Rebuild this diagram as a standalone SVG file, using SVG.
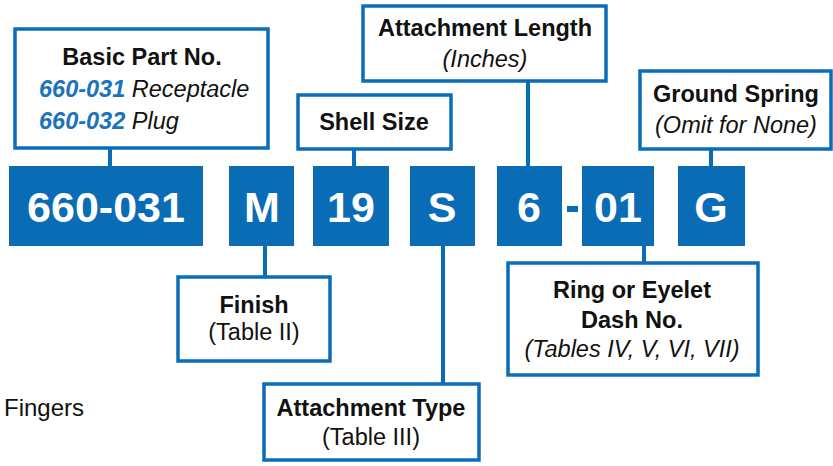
<svg xmlns="http://www.w3.org/2000/svg" width="833" height="466" viewBox="0 0 833 466">
<style>
.lbl{fill:#fff;stroke:#0a6db7;stroke-width:3.5}
.seg{fill:#0a6cb5}
.big{font-family:"Liberation Sans",Arial,sans-serif;font-weight:bold;font-size:43px;fill:#fff;text-anchor:middle}
.b{font-family:"Liberation Sans",Arial,sans-serif;font-weight:bold;font-size:23.5px;fill:#111;text-anchor:middle}
.i{font-family:"Liberation Sans",Arial,sans-serif;font-style:italic;font-size:23.5px;fill:#111;text-anchor:middle}
.r{font-family:"Liberation Sans",Arial,sans-serif;font-size:23.5px;fill:#111;text-anchor:middle}
.bl{font-weight:bold;fill:#1a74bb}
.conn{stroke:#0a6db7;stroke-width:4;fill:none}
</style>
<rect width="833" height="466" fill="#fff"/>
<g id="connectors">
<line class="conn" x1="110" y1="148" x2="110" y2="167"/>
<line class="conn" x1="354" y1="149" x2="354" y2="167"/>
<line class="conn" x1="528" y1="81" x2="528" y2="167"/>
<line class="conn" x1="711" y1="149" x2="711" y2="167"/>
<line class="conn" x1="265" y1="245" x2="265" y2="277"/>
<line class="conn" x1="443" y1="245" x2="443" y2="384"/>
<line class="conn" x1="644" y1="245" x2="644" y2="263"/>
</g>
<g id="seg-660-031"><rect class="seg" x="9" y="166" width="194" height="80"/><text class="big" x="106" y="222">660-031</text></g>
<g id="seg-M"><rect class="seg" x="229" y="166" width="65" height="80"/><text class="big" x="262" y="222">M</text></g>
<g id="seg-19"><rect class="seg" x="313" y="166" width="76" height="80"/><text class="big" x="351" y="222">19</text></g>
<g id="seg-S"><rect class="seg" x="410" y="166" width="65" height="80"/><text class="big" x="442" y="222">S</text></g>
<g id="seg-6"><rect class="seg" x="497" y="166" width="65" height="80"/><text class="big" x="529" y="222">6</text></g>
<g id="dash"><rect class="seg" x="567" y="206" width="11" height="6"/></g>
<g id="seg-01"><rect class="seg" x="582" y="166" width="72" height="80"/><text class="big" x="618" y="222">01</text></g>
<g id="seg-G"><rect class="seg" x="678" y="166" width="67" height="80"/><text class="big" x="711" y="222">G</text></g>
<g id="basic-part"><rect class="lbl" x="15" y="29" width="253" height="119"/>
<text class="b" x="142" y="65">Basic Part No.</text>
<text class="i" x="39" y="97" style="text-anchor:start"><tspan class="bl">660-031</tspan> Receptacle</text>
<text class="i" x="39" y="129" style="text-anchor:start"><tspan class="bl">660-032</tspan> Plug</text>
</g>
<g id="shell-size"><rect class="lbl" x="298" y="95" width="153" height="54"/><text class="b" x="374" y="130">Shell Size</text></g>
<g id="attachment-length"><rect class="lbl" x="363" y="6" width="243" height="75"/><text class="b" x="485" y="36">Attachment Length</text><text class="i" x="485" y="67">(Inches)</text></g>
<g id="ground-spring"><rect class="lbl" x="640" y="71" width="191" height="78"/><text class="b" x="736" y="102">Ground Spring</text><text class="i" x="736" y="133">(Omit for None)</text></g>
<g id="finish"><rect class="lbl" x="178" y="277" width="152" height="84"/><text class="b" x="254" y="313">Finish</text><text class="r" x="254" y="340">(Table II)</text></g>
<g id="attachment-type"><rect class="lbl" x="264" y="384" width="215" height="76"/><text class="b" x="371" y="416">Attachment Type</text><text class="r" x="371" y="445">(Table III)</text></g>
<g id="ring-eyelet"><rect class="lbl" x="508" y="263" width="250" height="112"/><text class="b" x="632" y="298">Ring or Eyelet</text><text class="b" x="632" y="328">Dash No.</text><text class="i" x="632" y="357">(Tables IV, V, VI, VII)</text></g>
<text x="4" y="416" font-family="Liberation Sans, Arial, sans-serif" font-size="24" fill="#111">Fingers</text>
</svg>
